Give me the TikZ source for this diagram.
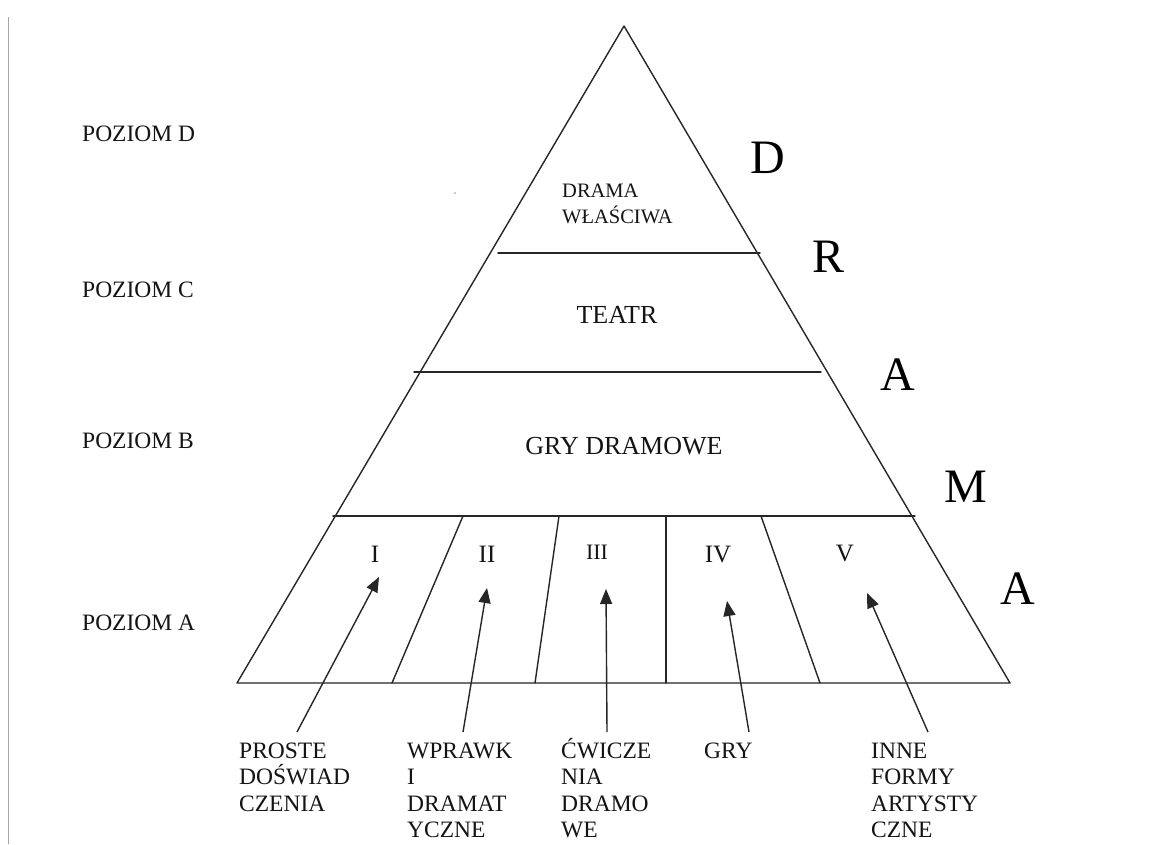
\documentclass[tikz,border=0pt]{standalone}
\usepackage{fontspec}
\setmainfont{Liberation Serif}
\usetikzlibrary{arrows.meta}
\begin{document}
\begin{tikzpicture}[x=1pt,y=-1pt,
  ln/.style={line width=1.4pt, draw=black!85, line cap=round, line join=round},
  arr/.style={line width=1.4pt, draw=black!85, -{Triangle[length=15pt,width=12pt]}},
  txt/.style={inner sep=0pt, text=black!92, font=\fontsize{23.5}{27.3}\selectfont},
  mid/.style={inner sep=0pt, text=black!92, font=\fontsize{26}{30}\selectfont},
  small/.style={inner sep=0pt, text=black!92, font=\fontsize{20.5}{26}\selectfont},
  num/.style={inner sep=0pt, text=black!92, font=\fontsize{25}{30}\selectfont},
  big/.style={inner sep=0pt, text=black, font=\fontsize{48}{56}\selectfont},
  multi/.style={inner sep=0pt, text=black!92, font=\fontsize{23.5}{26.5}\selectfont,
                align=left, anchor=base west}
]
\useasboundingbox (0,0) rectangle (1170,844);
\fill[white] (0,0) rectangle (1170,844);
% left margin rule
\draw[line width=1.5pt, draw=black!35] (8.5,17) -- (8.5,844);
\fill[black!40] (455,193) circle (0.9);

% pyramid
\coordinate (apex) at (624,26);
\coordinate (bl) at (237,683);
\coordinate (br) at (1010,683);
\draw[ln] (bl) -- (apex) -- (br) -- cycle;
\draw[ln] (498,253) -- (760,253);
\draw[ln] (414,372) -- (821,372);
\draw[ln] (333,516) -- (915,516);
% dividers of level A
\draw[ln] (463,516) -- (392,683);
\draw[ln] (559,516) -- (535,683);
\draw[ln] (666,516) -- (666,683);
\draw[ln] (761,516) -- (820,683);

% level labels
\node[txt, anchor=base west] (pd) at (82,141) {POZIOM D};
\node[txt, anchor=base west] (pc) at (82,297) {POZIOM C};
\node[txt, anchor=base west] (pb) at (82,448) {POZIOM B};
\node[txt, anchor=base west] (pa) at (82,630) {POZIOM A};

% inner labels (base anchor = baseline of the last line)
\node[small, align=left, anchor=base west] (dw) at (562,223) {DRAMA\\WŁAŚCIWA};
\node[mid, anchor=base] (teatr) at (617,323) {TEATR};
\node[mid, anchor=base] (gry) at (624,454) {GRY DRAMOWE};

% numerals
\node[num, anchor=base] (n1) at (375,562) {I};
\node[num, anchor=base] (n2) at (487,562) {II};
\node[num, anchor=base, font=\fontsize{22}{26}\selectfont] (n3) at (597,559) {III};
\node[num, anchor=base] (n4) at (718,562) {IV};
\node[num, anchor=base] (n5) at (845,561) {V};

% big letters
\node[big, anchor=base] (L1) at (768,173) {D};
\node[big, anchor=base] (L2) at (828,272) {R};
\node[big, anchor=base] (L3) at (898,390) {A};
\node[big, anchor=base] (L4) at (966,502) {M};
\node[big, anchor=base] (L5) at (1018,604) {A};

% bottom labels (base anchor = baseline of the last line)
\node[multi] (t1) at (239,811) {PROSTE\\DOŚWIAD\\CZENIA};
\node[multi] (t2) at (407,837.5) {WPRAWK\\I\\DRAMAT\\YCZNE};
\node[multi] (t3) at (561,837.5) {ĆWICZE\\NIA\\DRAMO\\WE};
\node[multi] (t4) at (704,758) {GRY};
\node[multi] (t5) at (871,837.5) {INNE\\FORMY\\ARTYSTY\\CZNE};

% arrow ends
\coordinate (s1) at (297,732); \coordinate (e1) at (379,577);
\coordinate (s2) at (463,732); \coordinate (e2) at (487,588);
\coordinate (s3) at (607,732); \coordinate (e3) at (606,589);
\coordinate (s4) at (749,732); \coordinate (e4) at (727,601);
\coordinate (s5) at (928,732); \coordinate (e5) at (867,593);
\draw[arr] (s1) -- (e1);
\draw[arr] (s2) -- (e2);
\draw[arr] (s3) -- (e3);
\draw[arr] (s4) -- (e4);
\draw[arr] (s5) -- (e5);
\end{tikzpicture}
\end{document}
